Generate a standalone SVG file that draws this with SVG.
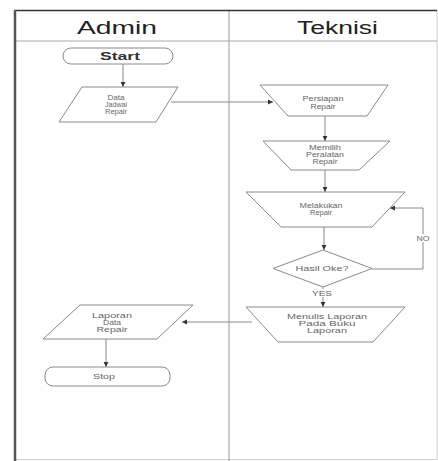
<svg xmlns="http://www.w3.org/2000/svg" width="438" height="461" viewBox="0 0 438 461">
  <style>
    .lane-title { font-family: "Liberation Sans", Arial, sans-serif; font-size: 18px; fill: #222; text-anchor: middle; }
    .shape { fill: #fff; stroke: #8a8a8a; stroke-width: 1; }
    .label { font-family: "Liberation Sans", Arial, sans-serif; font-size: 7px; fill: #666; text-anchor: middle; }
    .term { font-family: "Liberation Sans", Arial, sans-serif; font-size: 11px; font-weight: bold; fill: #333; text-anchor: middle; }
    .flow { fill: none; stroke: #8a8a8a; stroke-width: 1; }
    .arrow { marker-end: url(#head); }
  </style>
  <defs>
    <marker id="head" markerUnits="userSpaceOnUse" markerWidth="6" markerHeight="6" refX="5" refY="3" orient="auto">
      <path d="M0,0.6 L5,3 L0,5.4 Z" fill="#333"/>
    </marker>
  </defs>

  <rect width="438" height="461" fill="#fff"/>

  <!-- swimlane frame -->
  <g id="lanes">
    <line x1="437" y1="10" x2="437" y2="460" stroke="#cfcfcf" stroke-width="1"/>
    <line x1="15" y1="459.5" x2="437" y2="459.5" stroke="#cfcfcf" stroke-width="1"/>
    <line x1="15" y1="41" x2="437" y2="41" stroke="#a8a8a8" stroke-width="1"/>
    <line x1="229" y1="10" x2="229" y2="461" stroke="#9a9a9a" stroke-width="1"/>
    <line x1="14" y1="10.5" x2="437" y2="10.5" stroke="#333" stroke-width="1.5"/>
    <line x1="15" y1="10" x2="15" y2="461" stroke="#555" stroke-width="2.5"/>
    <text class="lane-title" x="117" y="34" textLength="80" lengthAdjust="spacingAndGlyphs">Admin</text>
    <text class="lane-title" x="337.5" y="34" textLength="81" lengthAdjust="spacingAndGlyphs">Teknisi</text>
  </g>

  <!-- connectors -->
  <g id="connectors">
    <line class="flow arrow" x1="123" y1="64" x2="123" y2="87"/>
    <line class="flow arrow" x1="171" y1="102" x2="273" y2="102"/>
    <line class="flow arrow" x1="325" y1="116" x2="325" y2="141"/>
    <line class="flow arrow" x1="325" y1="170" x2="325" y2="192"/>
    <line class="flow arrow" x1="324" y1="227" x2="324" y2="250"/>
    <polyline class="flow arrow" points="372,269 423,269 423,208 390,208"/>
    <line class="flow arrow" x1="323" y1="287" x2="323" y2="307"/>
    <line class="flow arrow" x1="252" y1="322" x2="182" y2="322"/>
    <line class="flow arrow" x1="106" y1="339" x2="106" y2="367"/>
    <rect x="415" y="234" width="16" height="8" fill="#fff"/>
    <text class="label" x="423" y="240.5" textLength="13" lengthAdjust="spacingAndGlyphs">NO</text>
    <rect x="311" y="289" width="23" height="8" fill="#fff"/>
    <text class="label" x="322" y="295.5" textLength="20" lengthAdjust="spacingAndGlyphs">YES</text>
  </g>

  <g id="start">
    <rect class="shape" x="63" y="48" width="110" height="16" rx="8"/>
    <text class="term" x="120" y="60" textLength="40" lengthAdjust="spacingAndGlyphs">Start</text>
  </g>

  <g id="data-jadwal-repair">
    <polygon class="shape" points="82,87 178,87 156,122 59,122"/>
    <text class="label" x="116" y="99.5" textLength="17" lengthAdjust="spacingAndGlyphs">Data</text>
    <text class="label" x="116" y="106.5" textLength="22" lengthAdjust="spacingAndGlyphs">Jadwal</text>
    <text class="label" x="116" y="113.5" textLength="22" lengthAdjust="spacingAndGlyphs">Repair</text>
  </g>

  <g id="persiapan-repair">
    <polygon class="shape" points="260,85 388,85 367,116 288,116"/>
    <text class="label" x="323" y="100.5" textLength="41" lengthAdjust="spacingAndGlyphs">Persiapan</text>
    <text class="label" x="323" y="108.5" textLength="25" lengthAdjust="spacingAndGlyphs">Repair</text>
  </g>

  <g id="memilih-peralatan">
    <polygon class="shape" points="263,141 390,141 359,170 291,170"/>
    <text class="label" x="325" y="149.5" textLength="32" lengthAdjust="spacingAndGlyphs">Memilih</text>
    <text class="label" x="325" y="156.5" textLength="38" lengthAdjust="spacingAndGlyphs">Peralatan</text>
    <text class="label" x="325" y="163.5" textLength="25" lengthAdjust="spacingAndGlyphs">Repair</text>
  </g>

  <g id="melakukan-repair">
    <polygon class="shape" points="246,192 405,192 372,227 281,227"/>
    <text class="label" x="321" y="207.5" textLength="43" lengthAdjust="spacingAndGlyphs">Melakukan</text>
    <text class="label" x="321" y="214.5" textLength="22" lengthAdjust="spacingAndGlyphs">Repair</text>
  </g>

  <g id="hasil-oke">
    <polygon class="shape" points="323,250 372,268.5 323,287 273,268.5"/>
    <text class="label" x="322" y="271" textLength="53" lengthAdjust="spacingAndGlyphs">Hasil Oke?</text>
  </g>

  <g id="menulis-laporan">
    <polygon class="shape" points="246,307 405,307 373,342 278,342"/>
    <text class="label" x="327" y="318.5" textLength="80" lengthAdjust="spacingAndGlyphs">Menulis Laporan</text>
    <text class="label" x="327" y="325.5" textLength="57" lengthAdjust="spacingAndGlyphs">Pada Buku</text>
    <text class="label" x="327" y="332.5" textLength="40" lengthAdjust="spacingAndGlyphs">Laporan</text>
  </g>

  <g id="laporan-data-repair">
    <polygon class="shape" points="80,305 193,305 157,339 43,339"/>
    <text class="label" x="112" y="317.5" textLength="40" lengthAdjust="spacingAndGlyphs">Laporan</text>
    <text class="label" x="112" y="324.5" textLength="18" lengthAdjust="spacingAndGlyphs">Data</text>
    <text class="label" x="112" y="331.5" textLength="31" lengthAdjust="spacingAndGlyphs">Repair</text>
  </g>

  <g id="stop">
    <rect class="shape" x="45" y="367" width="125" height="19" rx="8"/>
    <text class="label" x="104" y="379" textLength="22" lengthAdjust="spacingAndGlyphs">Stop</text>
  </g>
</svg>
